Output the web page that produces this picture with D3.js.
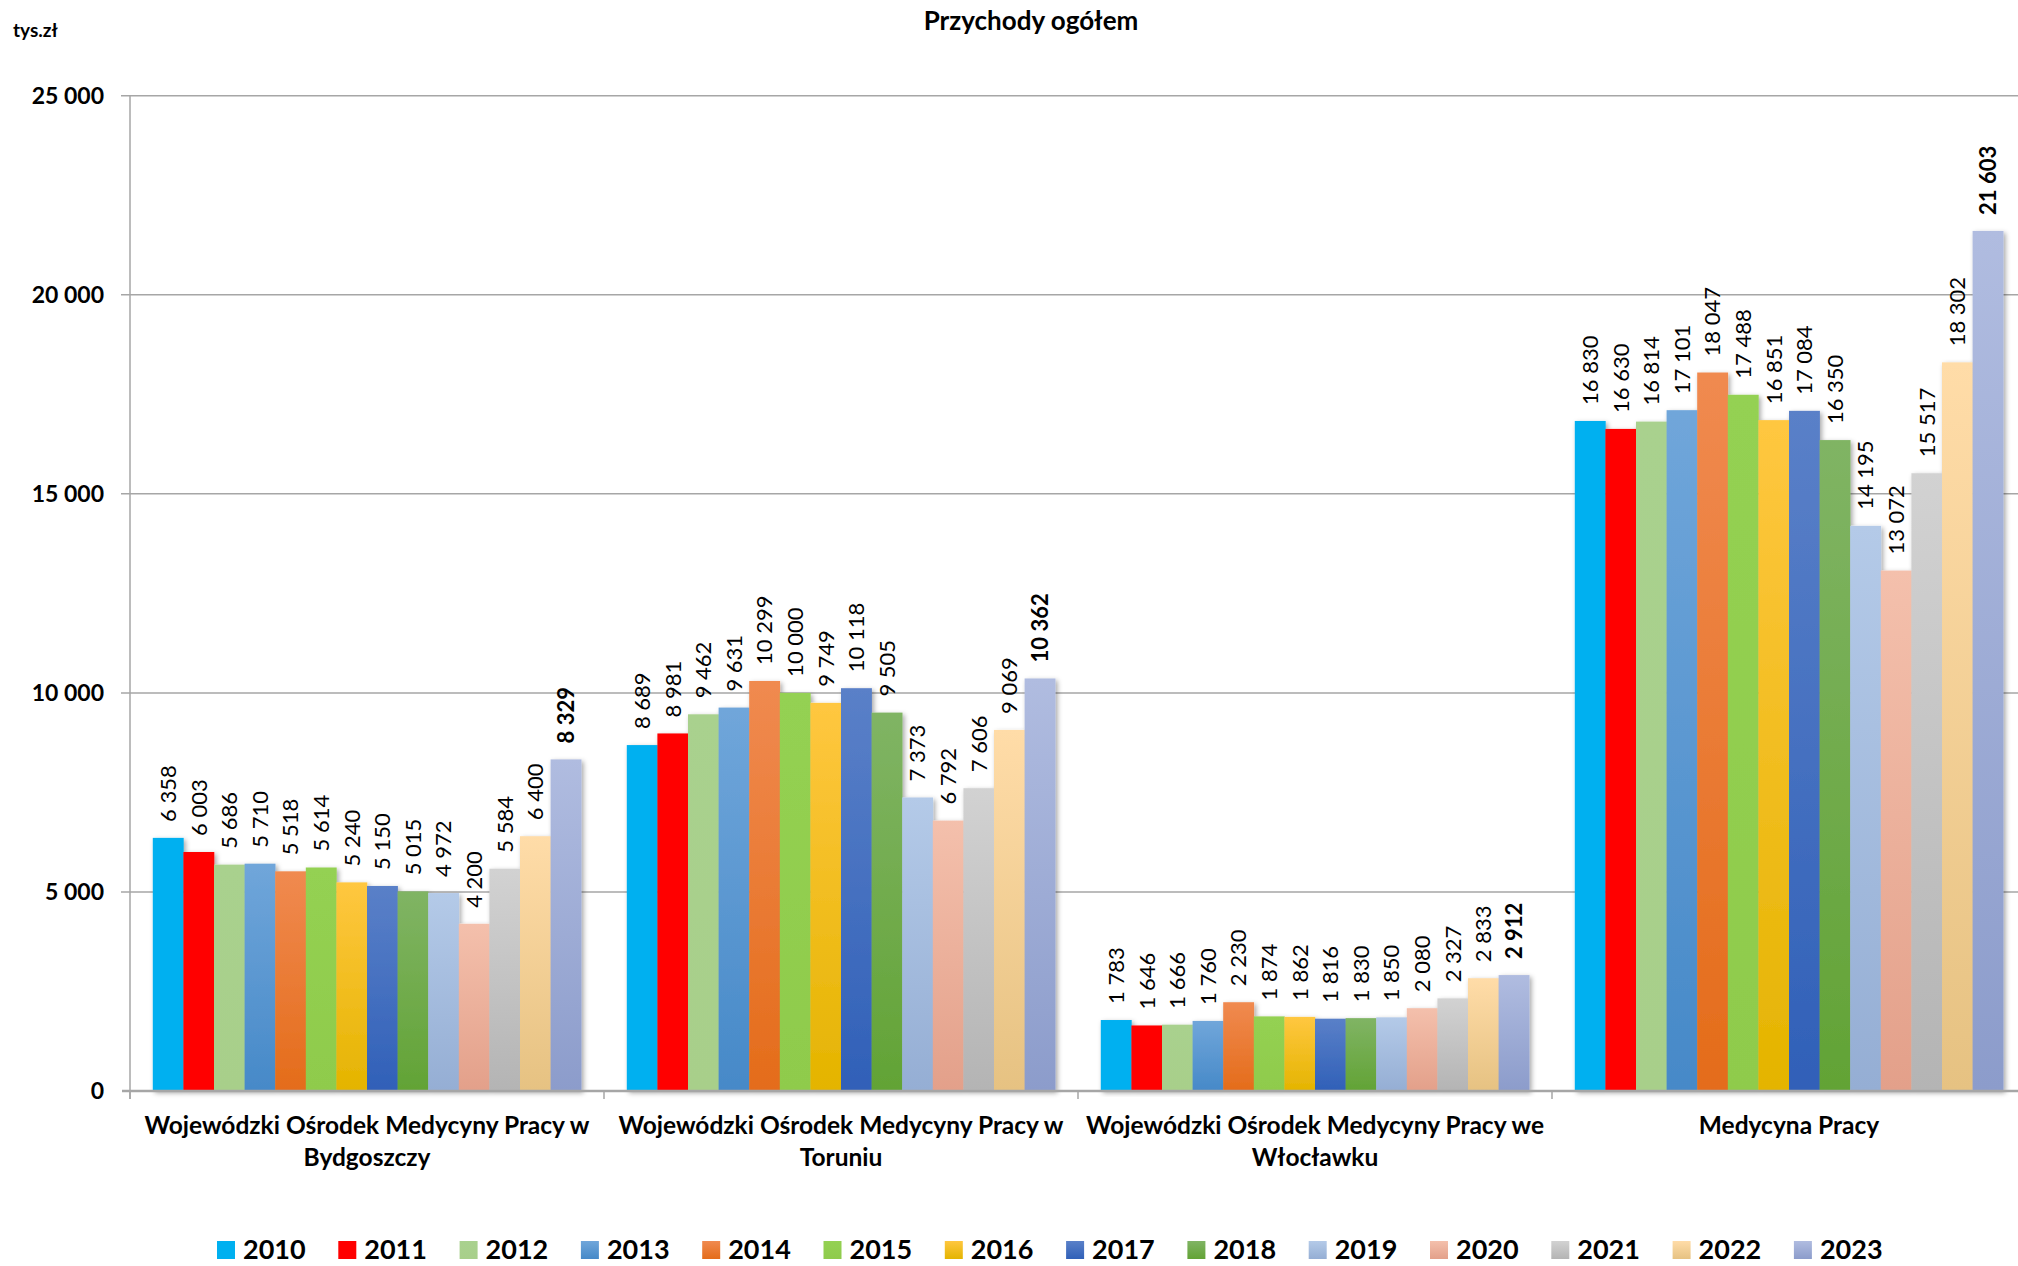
<!DOCTYPE html>
<html>
<head>
<meta charset="utf-8">
<script src="https://cdn.jsdelivr.net/npm/d3@7"></script>
<style>
  body { margin: 0; background: #fff; }
  text { font-family: Lato, "Open Sans", sans-serif; fill: #000; }
</style>
</head>
<body>
<div id="viz"></div>
<script>

var years = ["2010","2011","2012","2013","2014","2015","2016","2017","2018","2019","2020","2021","2022","2023"];
var categories = [
	"Wojewódzki Ośrodek Medycyny Pracy w\nBydgoszczy",
	"Wojewódzki Ośrodek Medycyny Pracy w\nToruniu",
	"Wojewódzki Ośrodek Medycyny Pracy we\nWłocławku",
	"Medycyna Pracy"
];
var bydgoszcz = [6358, 6003, 5686, 5710, 5518, 5614, 5240, 5150, 5015, 4972, 4200, 5584, 6400, 8329];
var torun = [8689, 8981, 9462, 9631, 10299, 10000, 9749, 10118, 9505, 7373, 6792, 7606, 9069, 10362];
var wloclawek = [1783, 1646, 1666, 1760, 2230, 1874, 1862, 1816, 1830, 1850, 2080, 2327, 2833, 2912];
var medycynaPracy = [16830, 16630, 16814, 17101, 18047, 17488, 16851, 17084, 16350, 14195, 13072, 15517, 18302, 21603];
var yTicks = [0, 5000, 10000, 15000, 20000, 25000];

// colours per year: [top, bottom] of the bar gradient
var colorTop = ["#00B0F0","#FF0000","#A9D18E","#70A6DA","#F08A50","#94D152","#FFC740","#5A80C8","#80B464","#B4CAE8","#F4C0AC","#D2D2D2","#FFDCA8","#B0BCE0"];
var colorBottom = ["#00B0F0","#FF0000","#A8CF8A","#4689C8","#E46C1A","#8FCB4C","#E4B400","#3060B8","#62A335","#95AED4","#E3A08A","#B4B4B4","#E6C282","#8C9CCB"];

var viz = { width: 2018, height: 1266 };
var plot = { left: 130, right: 2026, top: 95.7, bottom: 1091 };

var values = [bydgoszcz, torun, wloclawek, medycynaPracy];

var fmt = function(v) { return d3.format(",")(v).replace(/,/g, " "); };

var svg = d3.select("#viz")
	.append("svg")
	.attr("width", viz.width)
	.attr("height", viz.height);

var defs = svg.append("defs");
years.forEach(function(y, i) {
	var g = defs.append("linearGradient")
		.attr("id", "grad" + y)
		.attr("x1", 0).attr("y1", 0).attr("x2", 0).attr("y2", 1);
	g.append("stop").attr("offset", "0%").attr("stop-color", colorTop[i]);
	g.append("stop").attr("offset", "100%").attr("stop-color", colorBottom[i]);
});
var shadow = defs.append("filter").attr("id", "shadow")
	.attr("x", "-5%").attr("y", "-5%").attr("width", "110%").attr("height", "110%");
shadow.append("feDropShadow")
	.attr("dx", 2).attr("dy", 2).attr("stdDeviation", 2.5)
	.attr("flood-color", "#000").attr("flood-opacity", 0.35);

var x0 = d3.scaleBand().domain(categories).range([plot.left, plot.right]).padding(0);
var x1 = d3.scaleBand().domain(years).range([0, x0.bandwidth()]).paddingInner(0).paddingOuter(0.745);
var y = d3.scaleLinear().domain([0, 25000]).range([plot.bottom, plot.top]);

// gridlines + left ticks
svg.selectAll(".grid")
	.data(yTicks.filter(function(d) { return d > 0; })).enter()
	.append("line")
	.attr("class", "grid")
	.attr("x1", plot.left - 9).attr("x2", viz.width)
	.attr("y1", function(d) { return y(d); })
	.attr("y2", function(d) { return y(d); })
	.attr("stroke", "#a6a6a6").attr("stroke-width", 1.5);

// y axis line
svg.append("line")
	.attr("x1", plot.left).attr("x2", plot.left)
	.attr("y1", plot.top).attr("y2", plot.bottom + 8)
	.attr("stroke", "#a6a6a6").attr("stroke-width", 1.5);

// y tick labels
svg.selectAll(".ylab")
	.data(yTicks).enter()
	.append("text")
	.attr("class", "ylab")
	.attr("x", 104)
	.attr("y", function(d) { return y(d); })
	.attr("dy", "0.36em")
	.attr("text-anchor", "end")
	.attr("font-weight", "bold")
	.attr("font-size", 23)
	.text(function(d) { return fmt(d); });

// bars
var groups = svg.selectAll(".cat")
	.data(categories).enter()
	.append("g")
	.attr("class", "cat")
	.attr("transform", function(d) { return "translate(" + x0(d) + ",0)"; });

groups.append("g")
	.attr("filter", "url(#shadow)")
	.selectAll("rect")
	.data(function(d, ci) { return years.map(function(yr, i) { return { year: yr, value: values[ci][i] }; }); })
	.enter()
	.append("rect")
	.attr("x", function(d) { return x1(d.year); })
	.attr("width", x1.bandwidth() + 0.3)
	.attr("y", function(d) { return y(d.value); })
	.attr("height", function(d) { return y(0) - y(d.value); })
	.attr("fill", function(d) { return "url(#grad" + d.year + ")"; });

// value labels
groups.selectAll(".val")
	.data(function(d, ci) { return years.map(function(yr, i) { return { year: yr, value: values[ci][i], last: i == years.length - 1 }; }); })
	.enter()
	.append("text")
	.attr("class", "val")
	.attr("transform", function(d) {
		return "translate(" + (x1(d.year) + x1.bandwidth() / 2) + "," + (y(d.value) - 16) + ") rotate(-90)";
	})
	.attr("dy", "0.36em")
	.attr("font-size", 22)
	.attr("font-weight", function(d) { return d.last ? "bold" : "normal"; })
	.text(function(d) { return fmt(d.value); });

// x axis
svg.append("line")
	.attr("x1", plot.left - 8).attr("x2", viz.width)
	.attr("y1", plot.bottom).attr("y2", plot.bottom)
	.attr("stroke", "#a6a6a6").attr("stroke-width", 2.5);

svg.selectAll(".xtick")
	.data(categories).enter()
	.append("line")
	.attr("x1", function(d) { return x0(d); })
	.attr("x2", function(d) { return x0(d); })
	.attr("y1", plot.bottom).attr("y2", plot.bottom + 8)
	.attr("stroke", "#a6a6a6").attr("stroke-width", 1.5);

// category labels
var catLab = svg.selectAll(".catlab")
	.data(categories).enter()
	.append("text")
	.attr("class", "catlab")
	.attr("text-anchor", "middle")
	.attr("font-weight", "bold")
	.attr("font-size", 24.5);
catLab.selectAll("tspan")
	.data(function(d) { return d.split("\n").map(function(t) { return { t: t, c: d }; }); })
	.enter()
	.append("tspan")
	.attr("x", function(d) { return x0(d.c) + x0.bandwidth() / 2; })
	.attr("y", function(d, i) { return 1134 + i * 32; })
	.text(function(d) { return d.t; });

// title + unit
svg.append("text")
	.attr("x", 1031).attr("y", 30)
	.attr("text-anchor", "middle")
	.attr("font-weight", "bold")
	.attr("font-size", 26)
	.text("Przychody ogółem");

svg.append("text")
	.attr("x", 13).attr("y", 37)
	.attr("font-weight", "bold")
	.attr("font-size", 19)
	.text("tys.zł");

// legend
var legend = svg.selectAll(".leg")
	.data(years).enter()
	.append("g")
	.attr("class", "leg")
	.attr("transform", function(d, i) { return "translate(" + (217 + i * 121.3) + ",1241)"; });

legend.append("rect")
	.attr("width", 18).attr("height", 18)
	.attr("fill", function(d) { return "url(#grad" + d + ")"; });

legend.append("text")
	.attr("x", 26).attr("y", 18)
	.attr("font-weight", "bold")
	.attr("font-size", 27)
	.text(function(d) { return d; });

</script>
</body>
</html>
